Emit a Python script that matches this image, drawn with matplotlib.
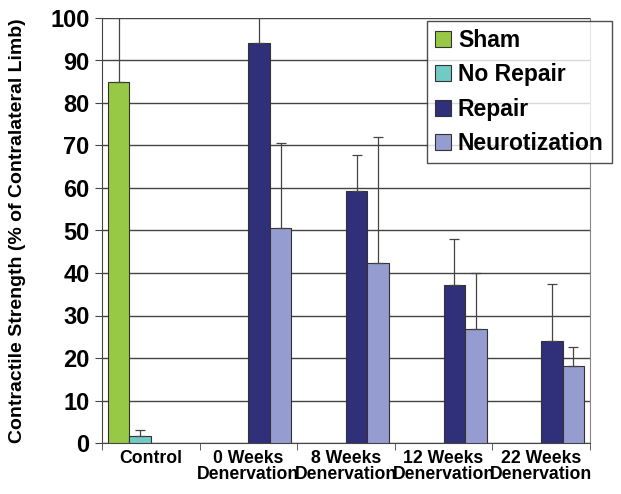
import matplotlib.pyplot as plt
import numpy as np

plt.rcParams["font.family"] = ["Liberation Sans", "DejaVu Sans"]
plt.rcParams["font.weight"] = "bold"

categories = ["Control", "0 Weeks\nDenervation", "8 Weeks\nDenervation",
              "12 Weeks\nDenervation", "22 Weeks\nDenervation"]
series = ["Sham", "No Repair", "Repair", "Neurotization"]

# value per category (None = no bar)
sham = [85.0, None, None, None, None]
no_repair = [1.7, None, None, None, None]
repair = [None, 94.2, 59.3, 37.2, 24.1]
neurotization = [None, 50.6, 42.3, 26.8, 18.1]

sham_err = [17.0, None, None, None, None]
no_repair_err = [1.4, None, None, None, None]
repair_err = [None, 7.0, 8.5, 10.8, 13.3]
neurotization_err = [None, 20.1, 29.8, 13.3, 4.6]

colors = ["#97c947", "#6fcbc4", "#2f2f7a", "#959ccf"]

fig = plt.figure(figsize=(6.21, 4.94), dpi=100)
ax = fig.add_axes([102 / 621, 1 - 443 / 494, 488 / 621, 425 / 494])

x = np.arange(len(categories))
w = 0.22
offsets = (np.arange(4) - 1.5) * w
values = [sham, no_repair, repair, neurotization]
errors = [sham_err, no_repair_err, repair_err, neurotization_err]

handles = []
for i, name in enumerate(series):
    idx = [k for k, v in enumerate(values[i]) if v is not None]
    vals = [values[i][k] for k in idx]
    errs = [errors[i][k] for k in idx]
    b = ax.bar(x[idx] + offsets[i], vals, width=w, color=colors[i],
               edgecolor="#333333", linewidth=0.8, label=name, zorder=3,
               yerr=[np.zeros(len(errs)), errs], capsize=3.5,
               error_kw=dict(ecolor="#444444", elinewidth=0.9, capthick=0.9))
    handles.append(b)

ax.set_xlim(-0.5, 4.5)
ax.set_ylim(0, 100)
ax.set_yticks(np.arange(0, 101, 10))
ax.yaxis.grid(True, color="#444444", linewidth=1.0, zorder=0)
ax.set_axisbelow(True)

ax.set_xticks(x)
ax.set_xticklabels(categories, fontsize=12.7, fontweight="bold", linespacing=0.95)
ax.set_xticks(np.arange(-0.5, 5.0, 1.0), minor=True)
ax.tick_params(axis="x", which="major", length=0, pad=5)
ax.tick_params(axis="x", which="minor", length=5, color="#444444")
ax.tick_params(axis="y", labelsize=17, length=5, color="#444444", pad=4)
for lab in ax.get_yticklabels():
    lab.set_fontweight("bold")

for side in ["left", "bottom"]:
    ax.spines[side].set_color("#444444")
ax.spines["top"].set_visible(False)
ax.spines["right"].set_color("#888888")

ax.set_ylabel("Contractile Strength (% of Contralateral Limb)", fontsize=14,
              fontweight="bold")
ax.yaxis.set_label_coords(-0.155, 0.5)

leg = fig.legend(handles=handles, labels=series, loc="upper left",
                 bbox_to_anchor=(427 / 621, 1 - 21 / 494),
                 prop=dict(size=16.5, weight="bold"), frameon=True,
                 fancybox=False, shadow=False, edgecolor="#222222",
                 handlelength=0.7, handleheight=0.7, handletextpad=0.3,
                 labelspacing=0.5, borderpad=0.35, borderaxespad=0)
leg.get_frame().set_linewidth(1.0)

fig.savefig("out.png", dpi=100)
